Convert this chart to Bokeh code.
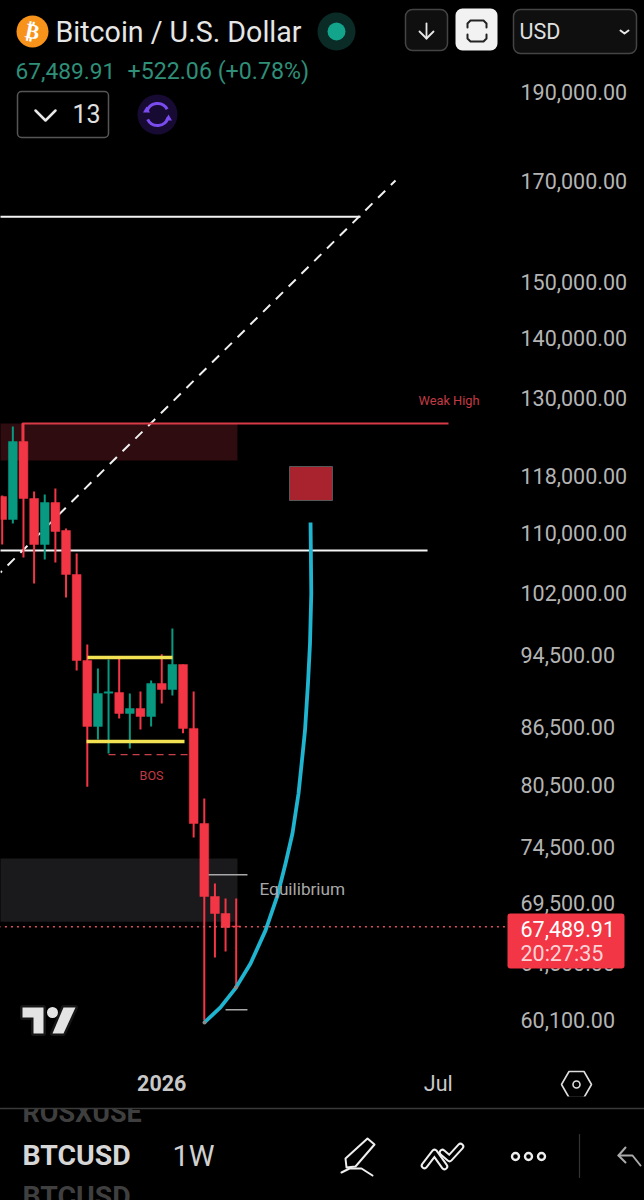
from math import exp
from bokeh.core.properties import value
from bokeh.embed import file_html
from bokeh.models import FixedTicker, LinearAxis, LinearScale, LogAxis, NumeralTickFormatter, Range1d
from bokeh.plotting import figure
from bokeh.resources import INLINE

# ---- chart data (weekly candles)
weeks = list(range(23))
opens = [115020, 111800, 123130, 114740, 108390, 114170, 110280, 104430, 93870, 86510, 90150, 90230,
         87910, 88450, 87580, 91240, 90560, 93410, 86300, 76700, 70070, 68610, 67560]
closes = [111800, 123130, 114740, 108390, 114170, 110140, 104430, 93870, 86510, 90120, 90300, 87910,
          88450, 87580, 91240, 90560, 93410, 86300, 76700, 70070, 68610, 67430, 67489.91]
highs = [115160, 125460, 125920, 115730, 115300, 116180, 110560, 107180, 95750, 92950, 93990, 94340,
         90120, 90340, 91580, 94590, 97680, 93410, 90340, 79110, 71210, 69900, 69900]
lows = [108390, 111250, 106650, 103260, 106390, 106000, 101480, 92720, 80290, 85120, 83660, 87360,
        84170, 86190, 86510, 89000, 89890, 85770, 75390, 60100, 64970, 65450, 62610]
last_price = 67489.91

price_ticks = [60100, 64500, 69500, 74500, 80500, 86500, 94500, 102000, 110000, 118000,
               130000, 140000, 150000, 170000, 190000]
time_ticks = {15: "2026", 41: "Jul"}

curve_weeks = [19.02, 20.52, 21.93, 23.35, 24.76, 25.88, 26.64, 27.29, 27.86, 28.28, 28.47, 28.75, 28.94, 29.06, 29.02, 28.99]
curve_prices = [59950, 61070, 62530, 64490, 67190, 70150, 73000, 75760, 79610, 83960, 86070, 91240, 95870, 101990, 107580, 111380]

resistance_price, resistance_start, resistance_end = 162700, -2, 33.69
support_price, support_start, support_end = 107580, -2, 39.99
diag_weeks, diag_prices = [-0.16, 36.98], [104690, 170170]
weak_high_price, weak_high_start, weak_high_end = 125920, 1.91, 41.96
weak_zone = (-2, 22.12, 125920, 120270)          # left, right, top, bottom price
eq_zone = (-2, 22.12, 73450, 67920)
target_zone = (27.01, 31.05, 119380, 114460)
range_top = (8.02, 16.01, 94220)
range_bottom = (7.93, 17.14, 84910)
bos_level = (10.0, 17.7, 83540)
eq_level = (19.4, 23.06, 71980)
low_level = (21.0, 23.06, 60900)

RED, GREEN = "#f23645", "#089981"
W, H = 644, 1200
PX_PER_LOG, Y190, X0, PX_WEEK = 807.0, 91.0, 1.7, 10.636


def price_at(py):
    return 190000 * exp(-(py - Y190) / PX_PER_LOG)


def week_at(px):
    return (px - X0) / PX_WEEK


p = figure(width=W, height=H, y_axis_type="log", output_backend="svg", toolbar_location=None,
           x_range=Range1d(week_at(0), week_at(W)), y_range=Range1d(price_at(H), price_at(0)),
           x_axis_location=None, y_axis_location=None, min_border=0,
           background_fill_color="#000000", border_fill_color="#000000", outline_line_color=None)
p.grid.visible = False
p.extra_x_ranges = {"px": Range1d(0, W)}
p.extra_y_ranges = {"px": Range1d(H, 0)}
p.extra_x_scales = {"px": LinearScale()}
p.extra_y_scales = {"px": LinearScale()}
PX = dict(x_range_name="px", y_range_name="px")

# ---- axes
yaxis = LogAxis(fixed_location=week_at(520), ticker=FixedTicker(ticks=price_ticks),
                formatter=NumeralTickFormatter(format="0,0.00"), axis_line_color=None,
                major_tick_line_color=None, minor_tick_line_color=None, major_tick_out=0, major_tick_in=0,
                major_label_standoff=0, major_label_text_color="#b4b4b4", major_label_text_font="Roboto",
                major_label_text_font_size="21.5px")
p.add_layout(yaxis, "right")
for tick, label in time_ticks.items():
    bold = label == "2026"
    xaxis = LinearAxis(fixed_location=price_at(1074 if bold else 1070), ticker=FixedTicker(ticks=[tick]),
                       major_label_overrides={tick: label}, axis_line_color=None,
                       major_tick_line_color=None, minor_tick_line_color=None, major_tick_out=0, major_tick_in=0,
                       major_label_standoff=0, major_label_text_color="#c8c8c8", major_label_text_font="Roboto",
                       major_label_text_font_style="bold" if bold else "normal",
                       major_label_text_font_size="21.5px")
    p.add_layout(xaxis, "below")

# ---- zones and levels
p.quad(left=weak_zone[0], right=weak_zone[1], top=weak_zone[2], bottom=weak_zone[3], fill_color="#2e0c10", line_color=None)
p.quad(left=eq_zone[0], right=eq_zone[1], top=eq_zone[2], bottom=eq_zone[3], fill_color="#1a1a1c", line_color=None)
p.segment(x0=[resistance_start, support_start], x1=[resistance_end, support_end],
          y0=[resistance_price, support_price], y1=[resistance_price, support_price], line_color="#f4f4f4", line_width=2)
p.line(diag_weeks, diag_prices, line_color="#f0f0f0", line_width=2, line_dash="10 8", line_dash_offset=8)
p.line([weak_high_start, weak_high_start, weak_high_end], [opens[2], weak_high_price, weak_high_price], line_color="#d83a48", line_width=2.2)
p.quad(left=target_zone[0], right=target_zone[1], top=target_zone[2], bottom=target_zone[3],
       fill_color="#a8232e", line_color="#5a5a5a", line_width=1)

# ---- candles
colors = [GREEN if c >= o else RED for o, c in zip(opens, closes)]
p.segment(x0=weeks, x1=weeks, y0=lows, y1=highs, line_color=colors, line_width=2)
p.vbar(x=weeks, width=0.83, top=[max(a, b) for a, b in zip(opens, closes)], bottom=[min(a, b) for a, b in zip(opens, closes)],
       fill_color=colors, line_color=colors, line_width=0.5)

p.line([range_top[0], range_top[1]], [range_top[2]] * 2, line_color="#f3e154", line_width=3.5)
p.line([range_bottom[0], range_bottom[1]], [range_bottom[2]] * 2, line_color="#f3e154", line_width=3.5)
p.line([bos_level[0], bos_level[1]], [bos_level[2]] * 2, line_color="#c9404a", line_width=1.3, line_dash="7 5")
for lvl in (eq_level, low_level):
    p.line([lvl[0], lvl[1]], [lvl[2]] * 2, line_color="#a8a8a8", line_width=1.5)
p.line([-2, week_at(507)], [last_price] * 2, line_color="#e0505c", line_width=1.5, line_dash="2 4")
p.line(curve_weeks, curve_prices, line_color="#1fb4cf", line_width=3.8, line_join="round")
p.scatter([curve_weeks[0], 21.98], [curve_prices[0], lows[22]], size=4, fill_color="#8a8a8a", line_color=None)


def txt(x, y, s, size, color, font="Roboto", style="normal", align="left", level="overlay", angle=0.0, baseline="middle"):
    p.text(x=[x], y=[y], text=[s], text_font=value(font), text_font_size=f"{size}px", text_color=color,
           text_font_style=style, text_align=align, text_baseline=baseline, level=level, angle=angle, **PX)


def box(l, r, t, b, fill, line=None, radius=0, lw=1.5, level="overlay"):
    p.quad(left=l, right=r, top=t, bottom=b, fill_color=fill, line_color=line, line_width=lw,
           border_radius=radius, level=level, **PX)


def poly(xs, ys, color="#e8e8e8", lw=2, level="overlay"):
    p.line(xs, ys, line_color=color, line_width=lw, line_join="round", line_cap="round", level=level, **PX)


txt(418, 400, "Weak High", 12.8, "#c23a44", level="glyph")
txt(151, 775, "BOS", 12.5, "#c23a44", align="center", level="glyph")
txt(259, 888, "Equilibrium", 17.2, "#a8a8a8", level="glyph")

# ---- TradingView mark
for xs, ys in (([22, 43, 43, 33, 33, 22], [1007, 1007, 1033, 1033, 1017, 1017]),
               ([63, 75, 63, 52], [1007, 1007, 1033, 1033])):
    p.patch(xs, ys, fill_color="#e4e4e4", line_color="#161616", line_width=5, line_join="round", **PX)
    p.patch(xs, ys, fill_color="#e4e4e4", line_color=None, **PX)
p.circle([52], [1012], radius=5.5, fill_color="#e4e4e4", line_color=None, **PX)

# ---- last-price tag
box(507, 624, 913, 968, "#f23645", radius=3)
txt(520, 928, "67,489.91", 21.5, "#ffffff")
txt(520, 953, "20:27:35", 21.5, "#fbd3d7")

# ---- header
p.circle([32], [31], radius=16, fill_color="#f7931a", line_color=None, level="overlay", **PX)
txt(32, 31, "₿", 21, "#ffffff", font="DejaVu Sans", style="bold", align="center", angle=-0.2)
txt(55, 31, "Bitcoin / U.S. Dollar", 28.6, "#e6e6e6")
p.circle([336], [31], radius=19, fill_color="#0b2b27", line_color=None, level="overlay", **PX)
p.circle([336], [31], radius=9, fill_color="#12a58c", line_color=None, level="overlay", **PX)
txt(15, 70, "67,489.91", 22.7, "#2f8f78")
txt(127, 70, "+522.06 (+0.78%)", 23.2, "#2f8f78")
box(17, 108, 91, 137, "#000000", "#565656", radius=4)
poly([35, 45, 55], [110, 120, 110], "#e8e8e8", 2.5)
txt(72, 113, "13", 25, "#e0e0e0")
p.circle([157], [114], radius=20, fill_color="#170b33", line_color=None, level="overlay", **PX)
p.arc([157], [114], radius=11, start_angle=0.5, end_angle=2.9, line_color="#7a4cf0", line_width=3, level="overlay", **PX)
p.arc([157], [114], radius=11, start_angle=3.6, end_angle=6.0, line_color="#7a4cf0", line_width=3, level="overlay", **PX)
p.scatter([168, 146], [118, 110], marker="triangle", size=7, fill_color="#7a4cf0", line_color=None, level="overlay", **PX)

box(405, 447, 9, 50, "#0f0f0f", "#444444", radius=7)
poly([426, 426], [23, 38], "#e8e8e8", 1.8)
poly([419, 426, 433], [31, 38, 31], "#e8e8e8", 1.8)
box(455, 497, 8, 50, "#f2f2f2", radius=7)
poly([467, 467, 470, 483, 486, 486], [27, 23, 20, 20, 23, 27], "#222222", 2)
poly([467, 467, 470, 483, 486, 486], [34, 38, 41, 41, 38, 34], "#222222", 2)
box(513, 636, 9, 53, "#0f0f0f", "#444444", radius=7)
txt(519, 31, "USD", 21.5, "#e0e0e0")
poly([620, 624, 628], [30, 33, 30], "#e8e8e8", 2)

# ---- bottom bar
p.scatter([576], [1084], marker="hex", size=30, fill_color=None, line_color="#dddddd", line_width=1.6, level="overlay", **PX)
p.circle([576], [1084], radius=3.5, fill_color=None, line_color="#dddddd", line_width=1.6, level="overlay", **PX)
txt(22, 1112, "ROSXUSE", 27, "#3f3f3f", style="bold")
box(0, W, 1096, 1108, "#000000")
poly([0, W], [1108, 1108], "#3a3a3a", 1.3)
txt(22, 1155, "BTCUSD", 28.4, "#d6d6d6", style="bold")
txt(172, 1155, "1W", 29, "#d0d0d0")
txt(22, 1196, "BTCUSD", 28.4, "#3f3f3f", style="bold")
poly([346, 345, 367, 374, 355, 346], [1167, 1158, 1138, 1144, 1166, 1167], "#efefef", 2)
poly([341, 349, 361, 372], [1172, 1168, 1168, 1175], "#efefef", 2)
for color, lw in (("#efefef", 7.5), ("#000000", 3.5)):
    poly([424, 434, 444], [1165, 1152, 1166], color, lw)
    poly([442, 449, 460], [1152, 1158, 1146], color, lw)
p.circle([515, 528, 541], [1156, 1156, 1156], radius=3.5, fill_color=None, line_color="#efefef", line_width=2.4, level="overlay", **PX)
poly([579, 579], [1134, 1177], "#333333", 1.2)
poly([625, 618, 625], [1147, 1155, 1162], "#aaaaaa", 2)
poly([618, 632, 640], [1155, 1155, 1165], "#aaaaaa", 2)

html = file_html(p, INLINE)
html = html.replace("<head>", "<head><style>html,body{background:#000000}</style>", 1)
open("out.html", "w").write(html)
